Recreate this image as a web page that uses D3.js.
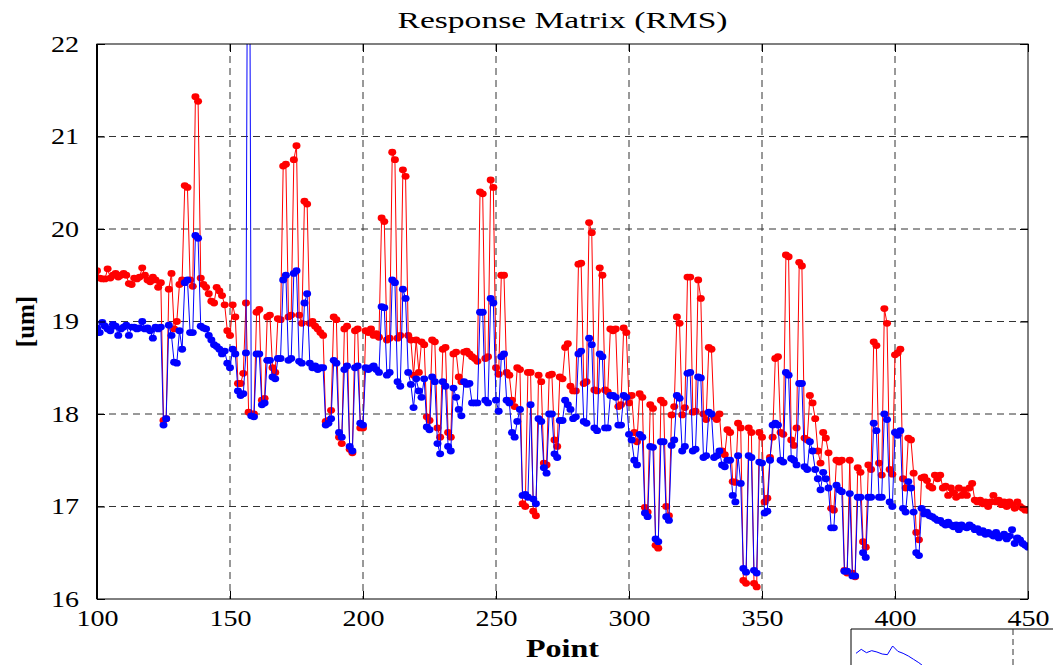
<!DOCTYPE html>
<html>
<head>
<meta charset="utf-8">
<script src="https://cdn.jsdelivr.net/npm/d3@7"></script>
<style>
  body { margin: 0; background: #fff; }
  svg { display: block; }
  text { font-family: "Liberation Serif", "Times New Roman", serif; fill: #000; }
</style>
</head>
<body>
<svg id="chart" width="1053" height="665"></svg>
<script>
// Point numbers along the x axis
const pointStart = 100;
const pointEnd = 450;

// RMS response per point, red trace (um)
const redValues = [
  19.55,19.47,19.46,19.46,19.57,19.47,19.5,19.52,19.48,19.5,
  19.52,19.5,19.41,19.4,19.47,19.46,19.48,19.58,19.5,19.45,
  19.43,19.48,19.45,19.37,19.42,17.93,17.95,19.35,19.52,18.92,
  19.0,19.4,19.45,20.47,20.45,19.45,19.38,21.43,21.38,19.47,
  19.4,19.37,19.3,19.22,19.2,19.37,19.33,19.28,19.18,18.9,
  18.85,19.18,19.05,18.33,18.33,18.44,19.2,18.02,18.0,18.0,
  19.1,19.13,18.15,18.17,19.05,19.07,18.5,18.45,19.03,19.02,
  20.68,20.7,19.05,19.07,20.75,20.9,19.07,18.98,20.3,20.27,
  18.98,19.0,18.95,18.92,18.88,18.85,17.92,17.93,18.04,19.05,
  19.02,17.75,17.68,18.92,18.95,17.62,17.58,18.9,18.92,17.85,
  17.85,18.9,18.88,18.92,18.85,18.87,18.83,20.12,20.08,18.8,
  18.82,20.83,20.75,18.82,18.85,20.64,20.57,18.85,18.8,18.42,
  18.8,18.45,18.78,18.75,17.97,17.93,18.8,18.78,17.85,17.75,
  18.7,18.72,17.8,17.75,18.65,18.67,18.4,18.35,18.67,18.68,
  18.65,18.62,18.6,18.57,20.4,20.38,18.6,18.62,20.53,20.45,
  18.5,18.43,19.5,19.5,18.45,18.42,18.15,18.08,18.5,18.48,
  17.03,17.0,18.45,18.45,16.95,16.9,18.42,18.35,17.47,17.45,
  18.42,18.43,17.72,17.65,18.4,18.38,18.72,18.76,18.3,18.25,
  18.25,19.62,19.63,18.33,18.35,20.07,19.96,18.26,18.25,19.58,
  19.5,18.26,18.24,18.92,18.9,18.92,18.08,18.1,18.93,18.88,
  18.12,18.2,17.8,17.7,18.22,18.18,16.99,16.94,18.1,18.06,
  16.58,16.55,18.15,18.12,17.0,16.9,17.99,18.08,19.05,18.98,
  17.99,18.07,19.48,19.48,18.02,18.03,19.45,19.25,18.0,17.94,
  18.72,18.7,17.97,17.94,18.0,17.6,17.56,17.83,17.8,17.27,
  17.26,17.9,17.85,16.2,16.17,17.85,17.8,16.17,16.13,17.8,
  17.75,17.05,17.09,17.53,17.75,18.6,18.62,17.8,17.78,19.72,
  19.7,17.72,17.66,17.85,19.64,19.6,17.74,17.72,18.2,18.12,
  17.95,17.6,17.47,17.8,17.74,17.58,16.98,16.96,17.5,17.48,
  17.5,16.31,16.28,17.5,16.28,16.24,17.42,17.37,16.62,16.56,
  17.45,17.4,18.78,18.74,17.47,17.34,19.14,18.98,17.4,17.35,
  18.64,18.66,18.7,17.3,17.2,17.74,17.72,17.36,16.72,16.64,
  17.31,17.32,17.28,17.22,17.2,17.34,17.3,17.34,17.2,17.22,
  17.12,17.2,17.15,17.1,17.2,17.12,17.18,17.12,17.2,17.25,
  17.07,17.05,17.07,17.03,17.05,17.0,17.05,17.12,17.05,17.07,
  17.02,17.05,17.0,17.05,17.02,16.98,17.05,17.0,16.98,16.96,
  16.96
];

// RMS response per point, blue trace (um)
const blueValues = [
  18.93,18.88,18.99,18.95,18.92,18.9,18.97,18.95,18.85,18.92,
  18.94,18.96,18.85,18.94,18.94,18.92,18.93,19.0,18.92,18.93,
  18.9,18.82,18.94,18.92,18.94,17.88,17.95,18.96,18.85,18.56,
  18.55,18.9,18.7,19.42,19.45,18.88,18.88,19.93,19.9,18.95,
  18.93,18.92,18.85,18.8,18.75,18.73,18.7,18.65,18.68,18.55,
  18.5,18.7,18.65,18.25,18.2,18.22,18.66,26.7,17.98,17.97,
  18.65,18.65,18.1,18.12,18.58,18.58,18.4,18.38,18.6,18.6,
  19.45,19.5,18.58,18.6,19.52,19.55,18.57,18.55,19.2,19.3,
  18.55,18.5,18.52,18.48,18.5,18.5,17.88,17.9,17.95,18.58,
  18.55,17.8,17.75,18.48,18.52,17.65,17.6,18.5,18.52,17.9,
  17.88,18.5,18.48,18.5,18.52,18.48,18.45,19.16,19.15,18.42,
  18.45,19.45,19.42,18.35,18.3,19.35,19.25,18.45,18.32,18.07,
  18.38,18.25,18.18,18.38,17.86,17.83,18.4,18.35,17.68,17.57,
  18.35,18.3,17.65,17.6,18.28,18.18,18.05,17.98,18.35,18.32,
  18.33,18.12,18.12,18.12,19.1,19.1,18.15,18.12,19.25,19.2,
  18.15,18.03,18.62,18.65,18.15,18.12,17.8,17.75,17.92,18.05,
  17.12,17.13,17.1,18.1,17.08,17.03,17.95,17.92,17.42,17.36,
  18.0,18.0,17.57,17.53,17.93,17.93,18.15,18.1,18.05,17.95,
  17.97,18.65,18.68,17.92,17.9,18.82,18.75,17.85,17.82,18.65,
  18.62,17.85,17.85,18.2,18.2,18.18,17.88,17.88,18.2,18.18,
  17.78,17.72,17.5,17.45,17.78,17.75,16.93,16.89,17.65,17.64,
  16.65,16.62,17.7,17.7,16.89,16.85,17.66,17.72,18.2,18.17,
  17.6,17.65,18.44,18.45,17.6,17.62,18.4,18.39,17.53,17.55,
  18.02,18.0,17.53,17.55,17.6,17.45,17.43,17.5,17.5,17.12,
  17.05,17.55,17.25,16.33,16.29,17.55,17.53,16.31,16.28,17.48,
  17.47,16.93,16.95,17.5,17.88,17.9,17.88,17.5,17.48,18.45,
  18.42,17.52,17.5,17.45,18.33,18.33,17.43,17.4,17.7,17.6,
  17.4,17.3,17.18,17.37,17.3,17.2,16.77,16.77,17.23,17.18,
  17.16,16.3,16.3,17.14,16.25,16.25,17.1,17.1,16.5,16.45,
  17.1,17.1,17.9,17.82,17.1,17.1,18.0,17.94,17.05,17.0,
  17.8,17.77,17.82,16.98,16.94,17.27,17.2,16.94,16.5,16.47,
  16.98,16.92,16.94,16.9,16.89,16.87,16.85,16.85,16.82,16.8,
  16.83,16.8,16.78,16.8,16.75,16.8,16.78,16.77,16.8,16.78,
  16.75,16.76,16.72,16.74,16.7,16.72,16.7,16.68,16.72,16.66,
  16.68,16.7,16.65,16.68,16.75,16.6,16.66,16.64,16.6,16.58,
  16.56
];

const xTickValues = [100, 150, 200, 250, 300, 350, 400, 450];
const yTickValues = [16, 17, 18, 19, 20, 21, 22];

// Start of the next figure peeking in at the lower right
const insetValues = [19.0, 19.3, 19.05, 19.2, 19.1, 18.95, 18.9, 19.55, 19.15, 19.0, 18.8, 18.55, 18.3, 18.0, 17.7];

const points = d3.range(pointStart, pointEnd + 1);
const red = points.map((p, i) => ({ p, v: redValues[i] }));
const blue = points.map((p, i) => ({ p, v: blueValues[i] }));

const svg = d3.select("#chart");
const plot = { left: 97, right: 1028, top: 44, bottom: 599 };

const x = d3.scaleLinear().domain([pointStart, pointEnd]).range([plot.left, plot.right]);
const y = d3.scaleLinear().domain([16, 22]).range([plot.bottom, plot.top]);

// widen glyphs horizontally, as in the printed figure
function widen(sel, factor) {
  sel.each(function () {
    const len = this.getComputedTextLength();
    d3.select(this).attr("textLength", len * factor).attr("lengthAdjust", "spacingAndGlyphs");
  });
}

svg.append("defs").append("clipPath").attr("id", "plot-clip")
  .append("rect")
  .attr("x", plot.left).attr("y", plot.top)
  .attr("width", plot.right - plot.left).attr("height", plot.bottom - plot.top);

// dashed grid
const grid = svg.append("g");
grid.selectAll("line.gx").data(xTickValues.slice(1, -1)).join("line")
  .attr("x1", d => x(d)).attr("x2", d => x(d))
  .attr("y1", plot.top).attr("y2", plot.bottom)
  .attr("stroke", "#333").attr("stroke-width", 1).attr("stroke-dasharray", "7,5");
grid.selectAll("line.gy").data(yTickValues.slice(1, -1)).join("line")
  .attr("x1", plot.left).attr("x2", plot.right)
  .attr("y1", d => y(d)).attr("y2", d => y(d))
  .attr("stroke", "#333").attr("stroke-width", 1).attr("stroke-dasharray", "7,5");

// traces
const line = d3.line().x(d => x(d.p)).y(d => y(d.v));
const series = [
  { data: red, color: "#ff0000" },
  { data: blue, color: "#0000ff" }
];
const traces = svg.append("g").attr("clip-path", "url(#plot-clip)");
series.forEach(s => {
  traces.append("path").datum(s.data)
    .attr("fill", "none").attr("stroke", s.color).attr("stroke-width", 1)
    .attr("d", line);
  traces.append("g").selectAll("ellipse").data(s.data).join("ellipse")
    .attr("cx", d => x(d.p)).attr("cy", d => y(d.v))
    .attr("rx", 4).attr("ry", 3.4)
    .attr("fill", s.color);
});

// axes with inward ticks
const tickLen = 8;
const fontSize = 23;
const xAxis = d3.axisBottom(x).tickValues(xTickValues).tickFormat(d3.format("d"))
  .tickSizeInner(-tickLen).tickSizeOuter(0).tickPadding(tickLen + 3);
const yAxis = d3.axisLeft(y).tickValues(yTickValues).tickFormat(d3.format("d"))
  .tickSizeInner(-tickLen).tickSizeOuter(0).tickPadding(tickLen + 10);

const gx = svg.append("g").attr("transform", `translate(0,${plot.bottom})`).call(xAxis);
const gy = svg.append("g").attr("transform", `translate(${plot.left},0)`).call(yAxis);
[gx, gy].forEach(g => {
  g.select(".domain").remove();
  g.selectAll("text").style("font-family", '"Liberation Serif", serif').style("font-size", fontSize + "px").attr("fill", "#000");
  g.selectAll("line").attr("stroke", "#000");
  widen(g.selectAll("text"), 1.22);
});
// ticks mirrored on top and right
svg.append("g").attr("transform", `translate(0,${plot.top})`)
  .call(d3.axisTop(x).tickValues(xTickValues).tickSizeInner(-tickLen).tickSizeOuter(0).tickFormat(""))
  .call(g => g.select(".domain").remove());
svg.append("g").attr("transform", `translate(${plot.right},0)`)
  .call(d3.axisRight(y).tickValues(yTickValues).tickSizeInner(-tickLen).tickSizeOuter(0).tickFormat(""))
  .call(g => g.select(".domain").remove());

// frame
svg.append("rect")
  .attr("x", plot.left).attr("y", plot.top)
  .attr("width", plot.right - plot.left).attr("height", plot.bottom - plot.top)
  .attr("fill", "none").attr("stroke", "#000").attr("stroke-width", 1);
svg.append("line").attr("x1", plot.left).attr("x2", plot.left).attr("y1", plot.top).attr("y2", plot.bottom)
  .attr("stroke", "#000").attr("stroke-width", 2);

// labels
svg.append("text").attr("x", (plot.left + plot.right) / 2).attr("y", 28)
  .attr("text-anchor", "middle").style("font-size", "23px")
  .attr("textLength", 330).attr("lengthAdjust", "spacingAndGlyphs")
  .text("Response Matrix (RMS)");
svg.append("text").attr("x", (plot.left + plot.right) / 2).attr("y", 657)
  .attr("text-anchor", "middle").style("font-size", "25px").style("font-weight", "bold")
  .attr("textLength", 73).attr("lengthAdjust", "spacingAndGlyphs")
  .text("Point");
svg.append("text").attr("transform", `translate(34,${(plot.top + plot.bottom) / 2}) rotate(-90)`)
  .attr("text-anchor", "middle").style("font-size", "25px").style("font-weight", "bold")
  .text("[um]");

// partial next figure
const inset = { left: 851, top: 629, right: 1060 };
const ix = d3.scaleLinear().domain([0, 30]).range([inset.left + 5, 1013]);
const iy = d3.scaleLinear().domain([17, 20]).range([680, 640]);
svg.append("line").attr("x1", inset.left).attr("x2", inset.right).attr("y1", inset.top).attr("y2", inset.top)
  .attr("stroke", "#000").attr("stroke-width", 1);
svg.append("line").attr("x1", inset.left).attr("x2", inset.left).attr("y1", inset.top).attr("y2", 665)
  .attr("stroke", "#000").attr("stroke-width", 1);
svg.append("line").attr("x1", ix(30)).attr("x2", ix(30)).attr("y1", inset.top).attr("y2", 665)
  .attr("stroke", "#333").attr("stroke-dasharray", "6,4");
svg.append("path").datum(insetValues)
  .attr("fill", "none").attr("stroke", "#0000ff").attr("stroke-width", 1)
  .attr("d", d3.line().x((d, i) => ix(i)).y(d => iy(d)));
</script>
</body>
</html>
